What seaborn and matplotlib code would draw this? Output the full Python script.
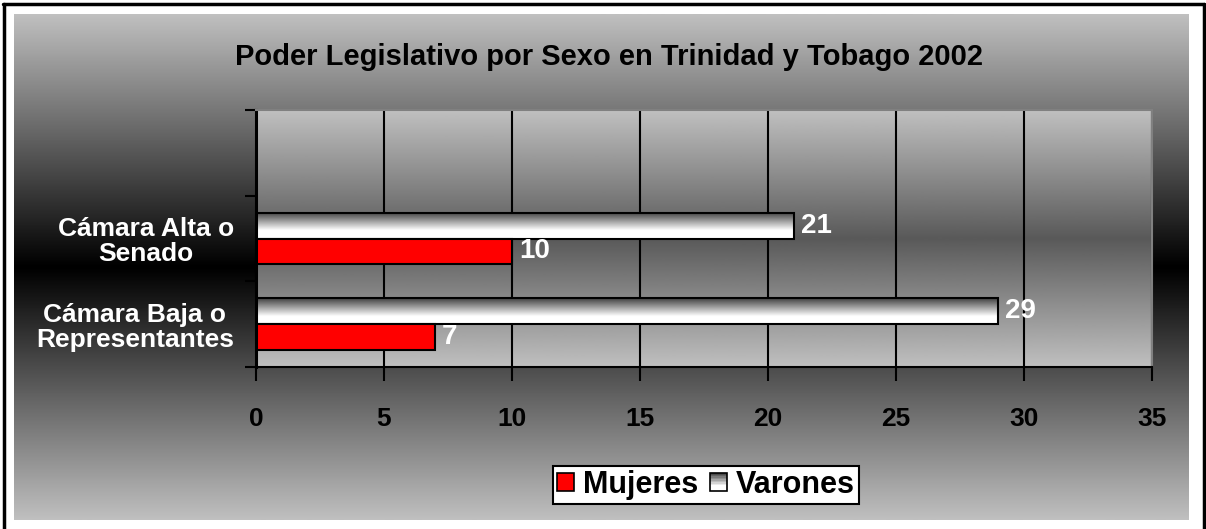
import numpy as np
import pandas as pd
import seaborn as sns
import matplotlib.pyplot as plt
from matplotlib.patches import Patch, Rectangle
from matplotlib.legend_handler import HandlerPatch
from matplotlib.lines import Line2D

# DATOS
titulo = "Poder Legislativo por Sexo en Trinidad y Tobago 2002"
camaras = ["", "Cámara Alta o\nSenado", "Cámara Baja o\nRepresentantes"]
camaras_datos = ["Cámara Alta o\nSenado", "Cámara Baja o\nRepresentantes"]
mujeres = [10, 7]
varones = [21, 29]
x_ticks = [0, 5, 10, 15, 20, 25, 30, 35]
orden_sexo = ["Varones", "Mujeres"]

df = pd.DataFrame({
    "camara": camaras_datos * 2,
    "sexo": ["Mujeres"] * len(mujeres) + ["Varones"] * len(varones),
    "valor": mujeres + varones,
})

sns.set_theme(style="white")
plt.rcParams["font.family"] = ["Liberation Sans", "DejaVu Sans"]
plt.rcParams["font.weight"] = "bold"

W, H = 1206, 529
fig = plt.figure(figsize=(W / 100, H / 100), dpi=100)
fig.patch.set_facecolor("white")


def degradado(borde, centro, n=256):
    t = np.abs(np.linspace(-1, 1, n))
    return (centro + (borde - centro) * t)[:, None]


def tono_barra(t):
    # oscuro arriba (t=0), blanco abajo (t=1)
    return np.clip(0.25 + 0.75 * t / 0.7, 0, 1)


# FONDO DEL GRAFICO (gris -> negro -> gris)
bg = fig.add_axes([14 / W, 9 / H, 1175 / W, 506 / H], zorder=-2)
bg.imshow(degradado(0.75, 0.0), cmap="gray", vmin=0, vmax=1, aspect="auto", extent=(0, 1, 0, 1))
bg.axis("off")

# BORDE EXTERIOR
for xs, ys in [([4, 4], [H, 4]), ([3, 1204], [4, 4]), ([1204, 1204], [4, H])]:
    fig.add_artist(Line2D([x / W for x in xs], [1 - y / H for y in ys],
                          transform=fig.transFigure, color="black", lw=2.5))

# AREA DE TRAZADO
ax = fig.add_axes([256 / W, 162 / H, 896 / W, 257 / H])
ax.set_facecolor("none")

sns.barplot(data=df, x="valor", y="camara", hue="sexo", order=camaras,
            hue_order=orden_sexo,
            palette={"Mujeres": "#ff0000", "Varones": "white"},
            saturation=1, width=0.6, orient="h", edgecolor="black",
            linewidth=1.5, legend=False, ax=ax, zorder=2)

ax.imshow(degradado(0.75, 0.35), cmap="gray", vmin=0, vmax=1, aspect="auto",
          extent=(0, 1, 0, 1), transform=ax.transAxes, zorder=0)

# degradado en barras de varones
tono = tono_barra(np.linspace(0, 1, 100))
for sexo, cont in zip(orden_sexo, ax.containers):
    if sexo == "Varones":
        for bar in cont:
            x0, y0, w, h = bar.get_x(), bar.get_y(), bar.get_width(), bar.get_height()
            im = ax.imshow(tono[:, None], cmap="gray", vmin=0, vmax=1, aspect="auto",
                           origin="upper", extent=(x0, x0 + w, y0 + h, y0), zorder=1.9)
            im.set_clip_path(bar)
            bar.set_facecolor("none")
    ax.bar_label(cont, padding=5, color="white", fontsize=20, fontweight="bold")

ax.set_xlim(0, 35)
ax.set_ylim(2.5, -0.5)
ax.set_xlabel("")
ax.set_ylabel("")

ax.set_xticks(x_ticks)
ax.tick_params(axis="x", bottom=True, direction="out", length=10, width=1.5,
               color="black", pad=19, labelsize=19, labelcolor="black")
ax.set_yticks(range(len(camaras)))
ax.set_yticklabels(camaras)
ax.set_yticks([-0.5, 0.5, 1.5, 2.5], minor=True)
ax.tick_params(axis="y", which="major", left=False, length=0, pad=16,
               labelsize=19, labelcolor="white")
ax.tick_params(axis="y", which="minor", left=True, direction="out", length=8,
               width=1.5, color="black")
for lab in ax.get_yticklabels():
    lab.set_multialignment("center")
    lab.set_linespacing(1.05)

ax.grid(True, axis="x", color="black", linewidth=1.5)
ax.grid(False, axis="y")
ax.spines["left"].set_color("black")
ax.spines["left"].set_linewidth(2.2)
ax.spines["bottom"].set_color("black")
ax.spines["bottom"].set_linewidth(1.5)
for s in ["top", "right"]:
    ax.spines[s].set_color("#808080")
    ax.spines[s].set_linewidth(1.5)

fig.text(609 / W, 1 - 57 / H, titulo, ha="center", va="center",
         fontsize=21, fontweight="bold", color="black")


# LEYENDA
class DegradadoHandler(HandlerPatch):
    def create_artists(self, legend, orig_handle, xdescent, ydescent, width, height, fontsize, trans):
        arts = []
        n = 12
        for i in range(n):
            g = float(tono_barra(1 - (i + 0.5) / n))
            arts.append(Rectangle((-xdescent, -ydescent + i * height / n), width, height / n,
                                  facecolor=str(g), edgecolor="none", transform=trans))
        arts.append(Rectangle((-xdescent, -ydescent), width, height, facecolor="none",
                              edgecolor="black", lw=1.2, transform=trans))
        return arts


h_muj = Patch(facecolor="#ff0000", edgecolor="black", lw=1.2, label="Mujeres")
h_var = Patch(facecolor="white", edgecolor="black", lw=1.2, label="Varones")
leg = fig.legend(handles=[h_muj, h_var], handler_map={h_var: DegradadoHandler()},
                 loc="center", bbox_to_anchor=(706 / W, 1 - 485 / H), ncol=2,
                 fontsize=22, frameon=True, fancybox=False, edgecolor="black",
                 facecolor="white", framealpha=1, handlelength=0.55, handleheight=0.55,
                 handletextpad=0.3, columnspacing=0.4, borderpad=0.12, borderaxespad=0,
                 labelcolor="black")
leg.get_frame().set_linewidth(1.5)
for txt in leg.get_texts():
    txt.set_fontweight("bold")

fig.savefig("out.png", dpi=100)
